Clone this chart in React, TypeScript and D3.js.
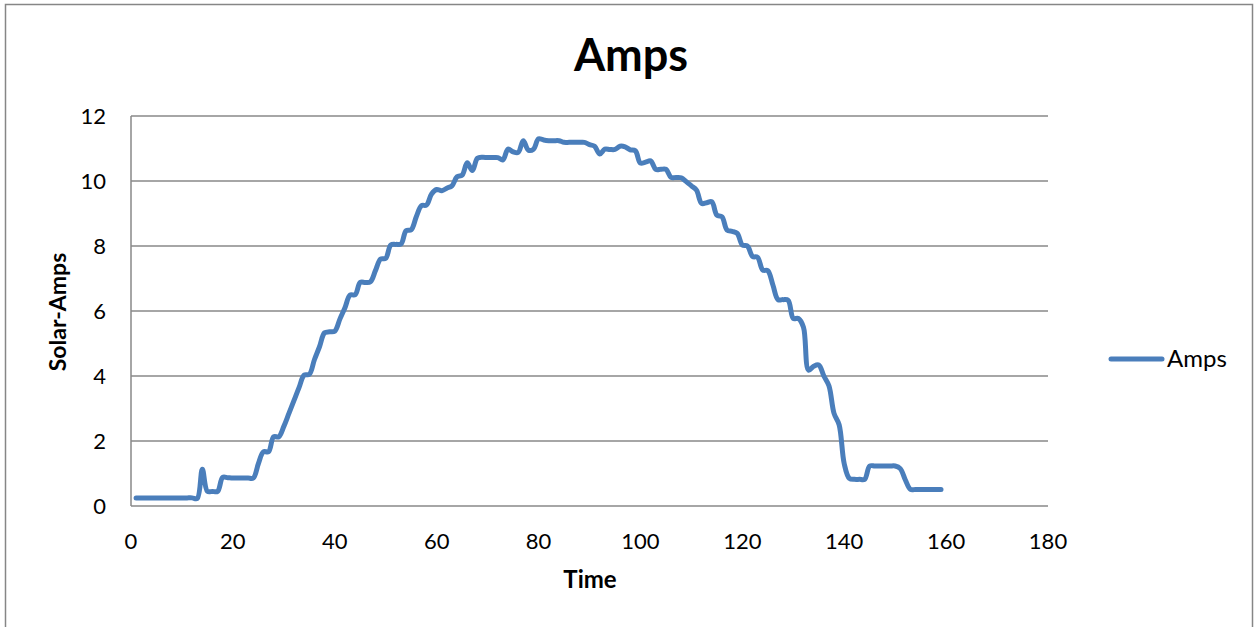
import React from "react";
import * as d3 from "d3";

const timeValues: number[] = d3.range(1, 160);
const ampsValues: number[] = [
  0.25, 0.25, 0.25, 0.25, 0.25, 0.25, 0.25, 0.25, 0.25, 0.25, 0.25, 0.25, 0.23, 1.13, 0.45, 0.45, 0.45, 0.88, 0.87, 0.86,
  0.86, 0.86, 0.86, 0.86, 1.3, 1.67, 1.67, 2.13, 2.13, 2.45, 2.85, 3.25, 3.65, 4.03, 4.05, 4.5, 4.9, 5.33, 5.36, 5.38,
  5.75, 6.1, 6.49, 6.5, 6.88, 6.88, 6.9, 7.25, 7.6, 7.62, 8.03, 8.05, 8.06, 8.47, 8.5, 8.9, 9.24, 9.26, 9.6, 9.74,
  9.7, 9.78, 9.85, 10.13, 10.18, 10.56, 10.32, 10.7, 10.73, 10.72, 10.72, 10.72, 10.65, 10.98, 10.9, 10.88, 11.24, 10.95, 10.98, 11.3,
  11.26, 11.24, 11.24, 11.24, 11.19, 11.19, 11.19, 11.19, 11.19, 11.12, 11.07, 10.83, 10.98, 10.97, 10.97, 11.07, 11.05, 10.96, 10.93, 10.55,
  10.58, 10.62, 10.36, 10.36, 10.36, 10.11, 10.11, 10.1, 9.98, 9.85, 9.72, 9.31, 9.33, 9.36, 8.95, 8.9, 8.49, 8.45, 8.39, 8.03,
  8.0, 7.68, 7.65, 7.26, 7.24, 6.8, 6.35, 6.35, 6.33, 5.77, 5.77, 5.5, 4.18, 4.3, 4.34, 4.0, 3.7, 2.85, 2.5, 1.3,
  0.85, 0.82, 0.82, 0.82, 1.23, 1.23, 1.23, 1.23, 1.23, 1.23, 1.15, 0.8, 0.51, 0.51, 0.51, 0.51, 0.51, 0.51, 0.51,
];
const xTicks: number[] = [0, 20, 40, 60, 80, 100, 120, 140, 160, 180];
const yTicks: number[] = [0, 2, 4, 6, 8, 10, 12];
const title = "Amps";
const xTitle = "Time";
const yTitle = "Solar-Amps";
const seriesName = "Amps";

const W = 1255;
const H = 627;
const FONT = "Lato, 'Open Sans', sans-serif";
const LINE_COLOR = "#4A7EBB";
const GRID = "#888888";

export default function App() {
  const x = d3.scaleLinear().domain([0, 180]).range([131, 1048]);
  const y = d3.scaleLinear().domain([0, 12]).range([506, 116]);
  const data = timeValues.map((t, i) => [t, ampsValues[i]] as [number, number]);
  const line = d3
    .line<[number, number]>()
    .x((d) => x(d[0]))
    .y((d) => y(d[1]))
    .curve(d3.curveCatmullRom.alpha(0.5));

  return (
    <svg
      width={W}
      height={H}
      style={{ position: "absolute", left: 0, top: 0, background: "#fff" }}
    >
      <rect x={5.5} y={4.5} width={1247} height={640} fill="#fff" stroke="#868686" strokeWidth={1.5} />
      <text x={631} y={71} textAnchor="middle" fontFamily={FONT} fontWeight="bold" fontSize={45} fill="#000">
        {title}
      </text>
      {yTicks.map((t) => (
        <line key={"g" + t} x1={x(0)} x2={x(180)} y1={y(t)} y2={y(t)} stroke={GRID} strokeWidth={1.5} />
      ))}
      <line x1={x(0)} x2={x(0)} y1={y(12)} y2={y(0)} stroke={GRID} strokeWidth={1.5} />
      {yTicks.map((t) => (
        <text key={"yl" + t} x={106} y={y(t)} dy="0.35em" textAnchor="end" fontFamily={FONT} fontSize={22} fill="#000">
          {t}
        </text>
      ))}
      {xTicks.map((t) => (
        <text key={"xl" + t} x={x(t)} y={541} dy="0.35em" textAnchor="middle" fontFamily={FONT} fontSize={22} fill="#000">
          {t}
        </text>
      ))}
      <text x={590} y={588} textAnchor="middle" fontFamily={FONT} fontWeight="bold" fontSize={24} fill="#000">
        {xTitle}
      </text>
      <text
        transform={`translate(66,312) rotate(-90)`}
        textAnchor="middle"
        fontFamily={FONT}
        fontWeight="bold"
        fontSize={23}
        fill="#000"
      >
        {yTitle}
      </text>
      <path d={line(data) || ""} fill="none" stroke={LINE_COLOR} strokeWidth={5} strokeLinejoin="round" strokeLinecap="round" />
      <line x1={1111} x2={1162} y1={359} y2={359} stroke={LINE_COLOR} strokeWidth={5} strokeLinecap="round" />
      <text x={1167} y={359} dy="0.35em" fontFamily={FONT} fontSize={24} fill="#000">
        {seriesName}
      </text>
    </svg>
  );
}
